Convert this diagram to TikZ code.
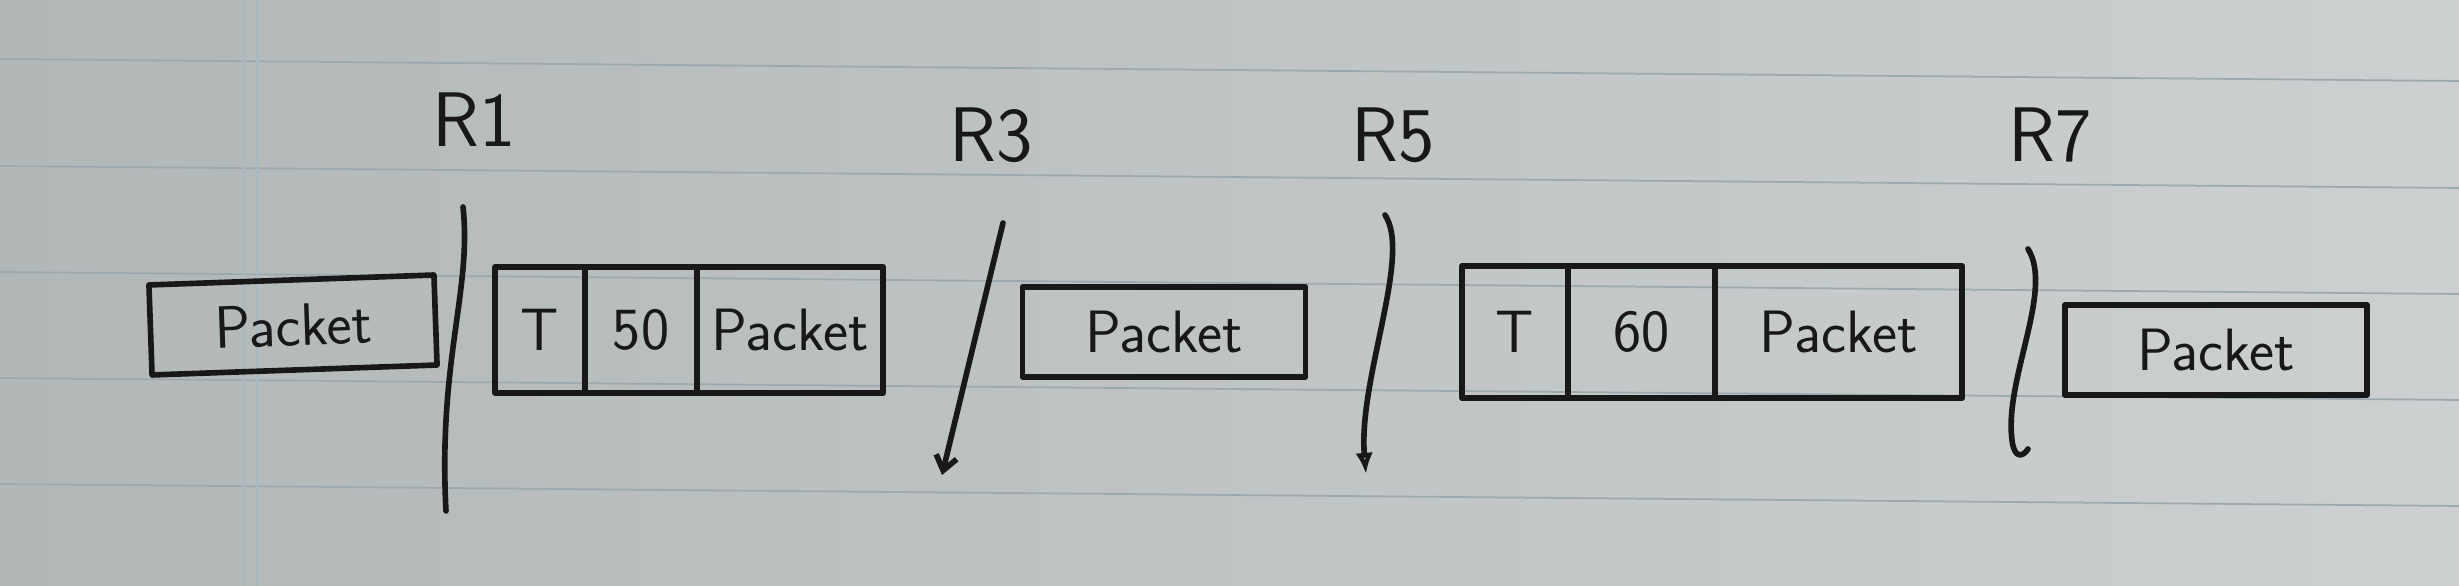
\documentclass[tikz,border=0pt]{standalone}
\usepackage{tikz}
\usetikzlibrary{positioning,arrows.meta}

\definecolor{paper}{RGB}{178,183,184}
\definecolor{paperlight}{RGB}{204,208,208}
\definecolor{rule}{RGB}{156,170,175}
\definecolor{margin}{RGB}{166,186,198}
\definecolor{ink}{RGB}{24,24,24}

\tikzset{
  pen/.style={draw=ink, line width=1.6pt, line cap=round, line join=round},
  box/.style={pen, rectangle, inner sep=0pt, outer sep=0pt, text=ink,
    font=\sffamily\fontsize{17}{20}\selectfont},
  router/.style={text=ink, font=\sffamily\fontsize{22}{26}\selectfont},
}

\begin{document}
\begin{tikzpicture}[x=0.01cm,y=-0.01cm]

	% paper
	\fill[left color=paper, right color=paperlight] (0,0) rectangle (2459,586);
	\useasboundingbox (0,0) rectangle (2459,586);
	\foreach \y in {59,166,272,378,484,590}
		\draw[rule, line width=0.5pt] (0,\y) -- (2459,\y+22);
	\draw[margin, line width=0.7pt] (244,0) -- (244,586);
	\draw[margin, line width=0.7pt] (257,0) -- (257,586);

	% routers
	\node[router] (r1) at (474,120) {R1};
	\node[router] (r3) at (991,135) {R3};
	\node[router] (r5) at (1393,135) {R5};
	\node[router] (r7) at (2050,135) {R7};

	% packets
	\node[box, minimum width=2.85cm, minimum height=0.9cm, rotate=2] (p1) at (293,325) {Packet};

	\node[box, minimum width=0.90cm, minimum height=1.26cm] (t1) at (540,330) {T};
	\node[box, minimum width=1.12cm, minimum height=1.26cm, right=0pt of t1] (ttl1) {50};
	\node[box, minimum width=1.86cm, minimum height=1.26cm, right=0pt of ttl1] (q1) {Packet};

	\node[box, minimum width=2.83cm, minimum height=0.9cm] (p3) at (1164,332) {Packet};

	\node[box, minimum width=1.06cm, minimum height=1.32cm] (t2) at (1515,332) {T};
	\node[box, minimum width=1.47cm, minimum height=1.32cm, right=0pt of t2] (ttl2) {60};
	\node[box, minimum width=2.47cm, minimum height=1.32cm, right=0pt of ttl2] (q2) {Packet};

	\node[box, minimum width=3.02cm, minimum height=0.9cm] (p5) at (2216,350) {Packet};

	% links
	\coordinate (s1a) at (463,207);
	\coordinate (s1b) at (446,511);
	\draw[pen] (s1a) .. controls (472,290) and (438,360) .. (s1b);

	\coordinate (s2a) at (1003,223);
	\coordinate (s2b) at (942,475);
	\draw[pen, -{Straight Barb[length=4pt,width=6pt]}] (s2a) -- (s2b);

	\coordinate (s3a) at (1385,215);
	\coordinate (s3b) at (1366,474);
	\draw[pen, -{Latex[open,length=6pt,width=5pt]}] (s3a) .. controls (1412,255) and (1358,380) .. (s3b);

	\coordinate (s4a) at (2028,249);
	\coordinate (s4b) at (2028,449);
	\draw[pen] (s4a) .. controls (2054,290) and (2004,380) .. (2012,440)
		.. controls (2014,458) and (2022,458) .. (s4b);

\end{tikzpicture}
\end{document}
